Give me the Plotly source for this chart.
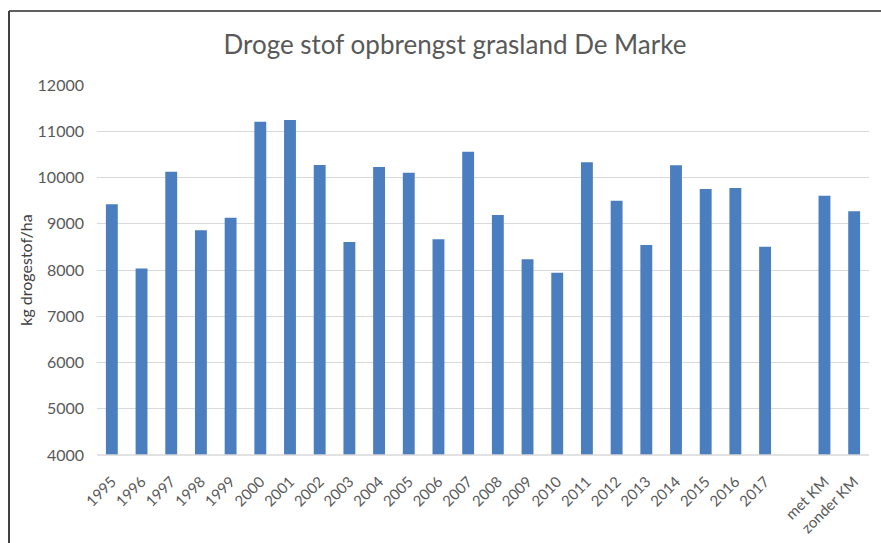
import plotly.graph_objects as go

categories = [str(y) for y in range(1995, 2018)] + [" ", "met KM", "zonder KM"]
values = [9420, 8030, 10125, 8858, 9130, 11207, 11243, 10270, 8605, 10227, 10104, 8663,
          10558, 9189, 8231, 7942, 10328, 9499, 8540, 10263, 9751, 9773, 8504,
          None, 9607, 9269]
y_ticks = [4000, 5000, 6000, 7000, 8000, 9000, 10000, 11000, 12000]

W, H = 881, 543
L, R, T, B = 97, 869, 85, 455

def px(x):
    return (x - L) / (R - L)

def py(y):
    return (B - y) / (B - T)

fig = go.Figure(go.Bar(x=categories, y=values, marker=dict(color="#4a7ebf", line=dict(width=0)),
                       width=0.4))

fig.update_layout(
    width=W, height=H,
    margin=dict(l=L, r=W - R, t=T, b=H - B, autoexpand=False),
    paper_bgcolor="white", plot_bgcolor="white",
    font=dict(family="Lato, Open Sans, sans-serif", color="#595959"),
    title=dict(text="Droge stof opbrengst grasland De Marke", x=455 / W, xref="container", xanchor="center",
               y=1 - 45 / H, yref="container", yanchor="middle",
               font=dict(size=26, color="#595959")),
    showlegend=False,
    bargap=0.6,
    xaxis=dict(type="category", tickangle=-45, tickfont=dict(size=15, color="#595959"),
               showgrid=False, showline=False, ticks="", ticklen=0, ticklabelstandoff=14,
               automargin=False),
    yaxis=dict(range=[4000, 12000], tickvals=y_ticks, tickformat="d",
               tickfont=dict(size=16, color="#595959"), ticklabelstandoff=12,
               showgrid=True, gridcolor="#d9d9d9", gridwidth=1, zeroline=False, showline=False,
               ticks="", automargin=False,
               title=dict(text="kg drogestof/ha", font=dict(size=16, color="#404040"), standoff=0)),
    shapes=[
        dict(type="line", xref="paper", yref="paper", x0=px(9), x1=px(881), y0=py(11), y1=py(11),
             line=dict(color="#606060", width=2)),
        dict(type="line", xref="paper", yref="paper", x0=px(9), x1=px(9), y0=py(11), y1=py(543),
             line=dict(color="#404040", width=2)),
        dict(type="line", xref="paper", yref="paper", x0=0, x1=1, y0=0, y1=0,
             line=dict(color="#d9d9d9", width=1.5)),
    ],
)

fig.write_html("out.html", config={"displayModeBar": False},
               post_script="document.body.style.margin='0';document.body.style.overflow='hidden';")
